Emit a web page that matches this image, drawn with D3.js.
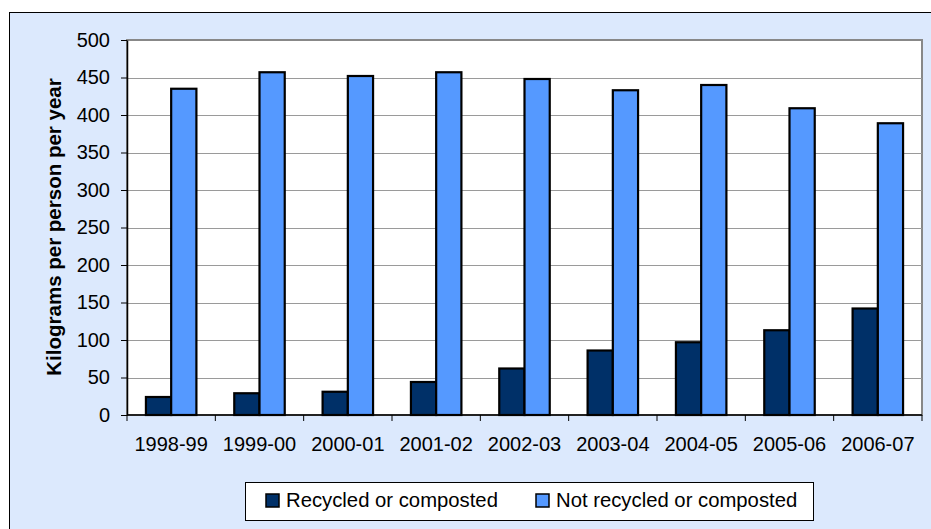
<!DOCTYPE html>
<html><head><meta charset="utf-8">
<script src="https://cdn.jsdelivr.net/npm/d3@7"></script>
<style>
html,body{margin:0;padding:0;background:#fff;}
svg text{font-family:"Liberation Sans",Arial,sans-serif;}
</style></head>
<body>
<svg id="chart" width="931" height="529"></svg>
<script>
const categories = ["1998-99","1999-00","2000-01","2001-02","2002-03","2003-04","2004-05","2005-06","2006-07"];
const recycled = [24, 29, 31, 44, 62, 86, 97, 113, 142];
const notRecycled = [435, 457, 452, 457, 448, 433, 440, 409, 389];
const seriesNames = ["Recycled or composted", "Not recycled or composted"];
const yTicks = [0, 50, 100, 150, 200, 250, 300, 350, 400, 450, 500];
const yTitle = "Kilograms per person per year";

const svg = d3.select("#chart");
const colors = ["#003068", "#5599FF"];
const FONT = "Liberation Sans, Arial, sans-serif";

// outer chart area
svg.append("rect").attr("x", 9.5).attr("y", 12.5).attr("width", 940).attr("height", 540)
  .attr("fill", "#DCE9FD").attr("stroke", "#000").attr("stroke-width", 1);

const L = 127, R = 922, T = 40, B = 415;
// Excel gap width 150%: each category = 2 bars + 1.5 bar gap
const x = d3.scaleBand().domain(categories).range([L, R]);
const step = x.step();
const barW = step / 3.5;
const y = d3.scaleLinear().domain([0, 500]).range([B, T]);

// plot area
svg.append("rect").attr("x", L).attr("y", T).attr("width", R - L).attr("height", B - T)
  .attr("fill", "#fff").attr("stroke", "#888").attr("stroke-width", 2);

// gridlines
svg.append("g").selectAll("line").data(yTicks.filter(d => d > 0 && d < 500)).join("line")
  .attr("x1", L).attr("x2", R).attr("y1", d => Math.round(y(d)) + 0.5).attr("y2", d => Math.round(y(d)) + 0.5)
  .attr("stroke", "#9a9a9a").attr("stroke-width", 1);

// bars
const g = svg.append("g");
[recycled, notRecycled].forEach((vals, si) => {
  g.selectAll(null).data(vals).join("rect")
    .attr("x", (d, i) => x(categories[i]) + 0.75 * barW + si * barW)
    .attr("y", d => y(d))
    .attr("width", barW)
    .attr("height", d => y(0) - y(d))
    .attr("fill", colors[si]).attr("stroke", "#000").attr("stroke-width", 2.2);
});

// y axis
const yAxis = d3.axisLeft(y).tickValues(yTicks).tickSize(6).tickSizeOuter(0).tickPadding(11);
const ya = svg.append("g").attr("transform", `translate(${L},0)`).call(yAxis);
ya.select(".domain").attr("stroke", "#000").attr("stroke-width", 1.5);
ya.selectAll(".tick line").attr("stroke", "#000");
ya.selectAll("text").attr("font-size", 20).attr("fill", "#000").attr("font-family", FONT);

// x axis
const xAxis = d3.axisBottom(x).tickSize(0).tickPadding(22);
const xa = svg.append("g").attr("transform", `translate(0,${B})`).call(xAxis);
xa.select(".domain").remove();
xa.selectAll("text").attr("font-size", 20).attr("fill", "#000").attr("font-family", FONT);
svg.append("line").attr("x1", L).attr("x2", R).attr("y1", B).attr("y2", B).attr("stroke", "#000").attr("stroke-width", 1.5);
// category tick marks at boundaries
svg.append("g").selectAll("line").data(d3.range(categories.length + 1)).join("line")
  .attr("x1", i => L + i * step).attr("x2", i => L + i * step)
  .attr("y1", B).attr("y2", B + 6).attr("stroke", "#000");

// y title
svg.append("text").attr("transform", `translate(61,227) rotate(-90)`)
  .attr("text-anchor", "middle").attr("font-size", 20.5).attr("font-weight", "bold").attr("fill", "#000")
  .text(yTitle);

// legend
svg.append("rect").attr("x", 245.5).attr("y", 482.5).attr("width", 568).attr("height", 38)
  .attr("fill", "#fff").attr("stroke", "#000").attr("stroke-width", 1);
const legX = [266, 536];
const lg = svg.append("g").selectAll("g").data(seriesNames).join("g")
  .attr("transform", (d, i) => `translate(${legX[i]},494)`);
lg.append("rect").attr("width", 13).attr("height", 13).attr("fill", (d, i) => colors[i])
  .attr("stroke", "#000").attr("stroke-width", 1.5);
lg.append("text").attr("x", 20).attr("y", 13).attr("font-size", 20.3).attr("fill", "#000").text(d => d);
</script>
</body></html>
